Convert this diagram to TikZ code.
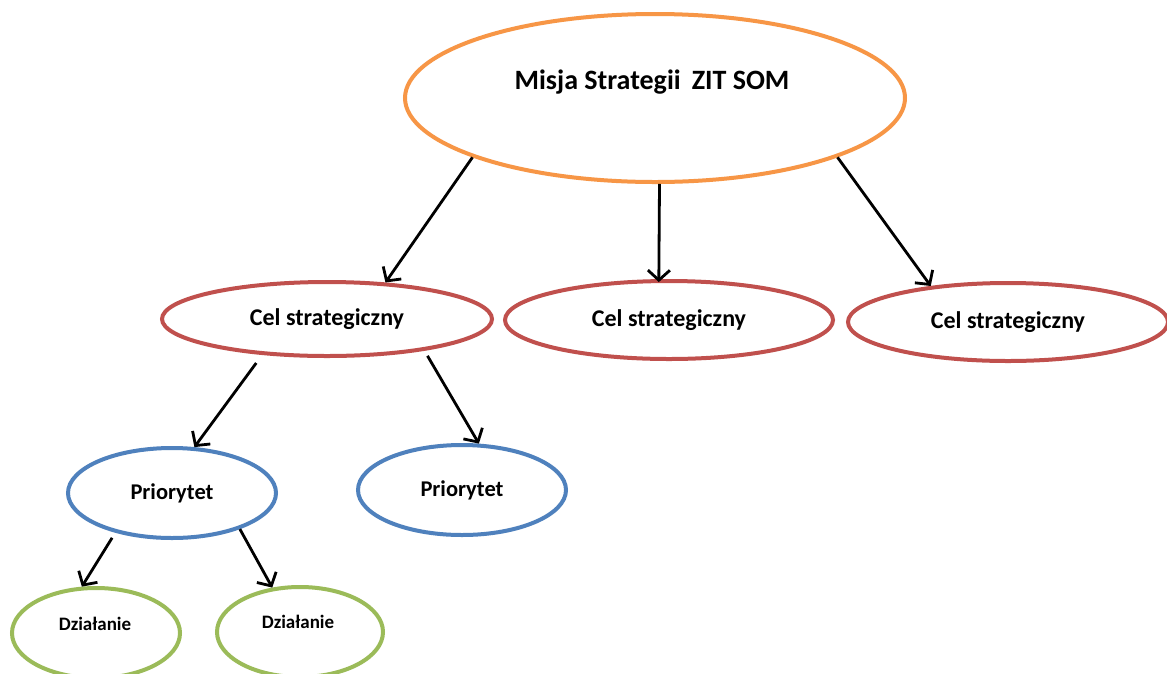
\documentclass[tikz,border=0pt]{standalone}
\usepackage{fontspec}
\setmainfont{Carlito}
\usetikzlibrary{shapes.geometric,arrows.meta}
\definecolor{orng}{HTML}{F79646}
\definecolor{rd}{HTML}{C0504D}
\definecolor{bl}{HTML}{4F81BD}
\definecolor{gr}{HTML}{9BBB59}
\tikzset{
  ell/.style={ellipse, draw, line width=4pt, inner sep=0pt, fill=white},
  lbl/.style={font=\bfseries, text=black, inner sep=0pt},
  arr/.style={line width=2.8pt, -{Straight Barb[length=10pt,width=22pt,line width=2.8pt]}}
}
\begin{document}
\begin{tikzpicture}[x=1pt,y=-1pt]
\useasboundingbox (0,0) rectangle (1167,673);
\clip (0,0) rectangle (1167,673);
\fill[white] (0,0) rectangle (1167,673);
\node[ell, draw=orng, minimum width=500pt, minimum height=168pt] (mis) at (655,98) {};
\node[lbl, font=\bfseries\fontsize{28}{32}\selectfont] (mist) at (652,82) {Misja Strategii\, ZIT SOM};
\node[ell, draw=rd, minimum width=330pt, minimum height=74pt, font=\bfseries\fontsize{24}{28}\selectfont] (cel1) at (327,319) {Cel strategiczny};
\node[ell, draw=rd, minimum width=328pt, minimum height=78pt, font=\bfseries\fontsize{24}{28}\selectfont] (cel2) at (669,320) {Cel strategiczny};
\node[ell, draw=rd, minimum width=320pt, minimum height=78pt, font=\bfseries\fontsize{24}{28}\selectfont] (cel3) at (1008,322) {Cel strategiczny};
\node[ell, draw=bl, minimum width=208pt, minimum height=90pt, font=\bfseries\fontsize{22.5}{26}\selectfont] (pr1) at (172,493) {Priorytet};
\node[ell, draw=bl, minimum width=208pt, minimum height=90pt, font=\bfseries\fontsize{22.5}{26}\selectfont] (pr2) at (462,490) {Priorytet};
\node[ell, draw=gr, minimum width=168pt, minimum height=90pt] (dz1) at (96,633) {};
\node[lbl, font=\bfseries\fontsize{19}{22}\selectfont] (dz1t) at (95,624) {Działanie};
\node[ell, draw=gr, minimum width=166pt, minimum height=90pt] (dz2) at (300,632) {};
\node[lbl, font=\bfseries\fontsize{19}{22}\selectfont] (dz2t) at (298,622) {Działanie};
\draw[arr] (mis.198) -- (cel1.32);
\draw[arr] (mis.273) -- ([yshift=-3pt]cel2.104);
\draw[arr] (mis.342) -- (cel3.155);
\draw[arr, shorten <=10pt] (cel1.209) -- (pr1.64);
\draw[arr, shorten <=6pt] (cel1.342) -- (pr2.70);
\draw[arr, shorten <=6pt] (pr1.215) -- (dz1.107);
\draw[arr] (pr1.332) -- (dz2.122);
\end{tikzpicture}
\end{document}
